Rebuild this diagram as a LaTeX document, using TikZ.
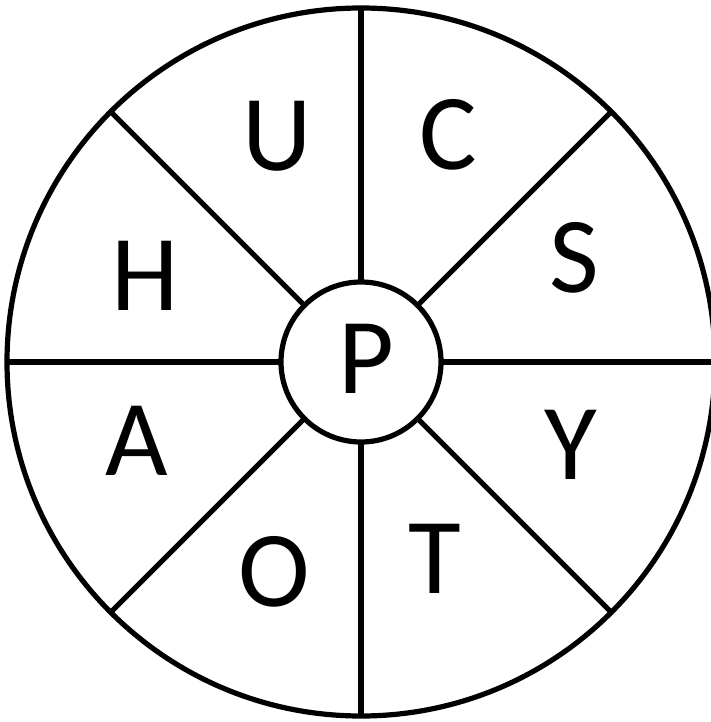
\documentclass[tikz,border=0pt]{standalone}
\usepackage{fontspec}
\setmainfont{Carlito}
\begin{document}
\begin{tikzpicture}[x=1pt,y=-1pt,
  ring/.style={draw=black,line width=5.2pt,circle,inner sep=0pt,outer sep=0pt},
  spoke/.style={draw=black,line width=5.2pt},
  letter/.style={anchor=base,inner sep=0pt,font=\fontsize{108}{108}\selectfont}]
\useasboundingbox[fill=white] (0,0) rectangle (710,722);
\node[ring,minimum size=708pt] (o) at (361,362) {};
\node[ring,minimum size=160pt] (c) at (361,362) {};
\foreach \a in {0,45,...,315} {
  \draw[spoke] (c.\a) -- (o.\a);
}
\node[letter] (lp) at (366,393) {P};
\node[letter] (lu) at (277,171) {U};
\node[letter] (lc) at (448,170) {C};
\node[letter] (lh) at (145,310) {H};
\node[letter] (ls) at (574,292) {S};
\node[letter] (la) at (137,475) {A};
\node[letter] (ly) at (571,479) {Y};
\node[letter] (lt) at (435,593) {T};
\node[letter] (lo) at (274,606) {O};
\end{tikzpicture}
\end{document}
